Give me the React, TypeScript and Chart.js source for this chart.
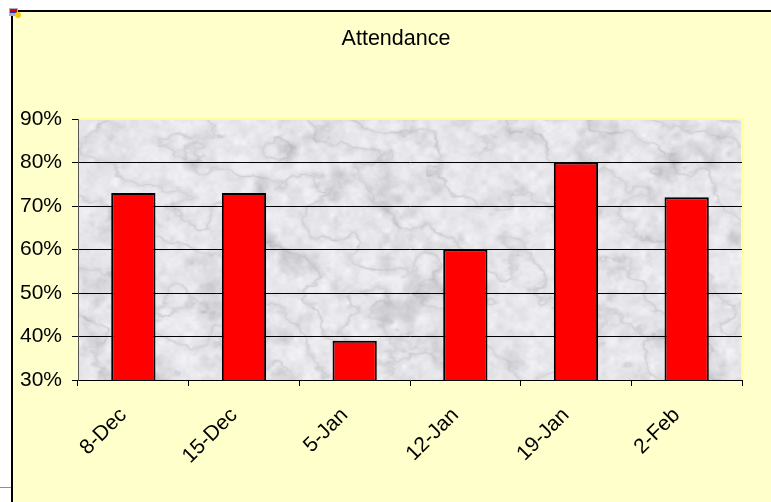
import React, { useEffect, useRef } from "react";
import { Chart, registerables } from "chart.js";

Chart.register(...registerables);

const categories = ["8-Dec", "15-Dec", "5-Jan", "12-Jan", "19-Jan", "2-Feb"];
const attendance = [73, 73, 39, 60, 80, 72];
const yMin = 30;
const yMax = 90;
const yStep = 10;
const titleText = "Attendance";

function hash(x: number, y: number): number {
  let h = Math.imul(x, 374761393) + Math.imul(y, 668265263);
  h = Math.imul(h ^ (h >>> 13), 1274126177);
  h = h ^ (h >>> 16);
  return (h >>> 0) / 4294967295;
}
function vnoise(x: number, y: number): number {
  const ix = Math.floor(x), iy = Math.floor(y);
  const fx = x - ix, fy = y - iy;
  const sx = fx * fx * (3 - 2 * fx), sy = fy * fy * (3 - 2 * fy);
  const a = hash(ix, iy), b = hash(ix + 1, iy), c = hash(ix, iy + 1), d = hash(ix + 1, iy + 1);
  return a + (b - a) * sx + (c - a) * sy + (a - b - c + d) * sx * sy;
}
function fbm(x: number, y: number): number {
  let s = 0, amp = 1, tot = 0, f = 1;
  for (let o = 0; o < 5; o++) {
    s += vnoise(x * f, y * f) * amp;
    tot += amp;
    amp *= 0.5;
    f *= 2;
  }
  return s / tot;
}

let textureCache: HTMLCanvasElement | null = null;
function makeTexture(w: number, h: number): HTMLCanvasElement {
  if (textureCache && textureCache.width === w && textureCache.height === h) return textureCache;
  const c = document.createElement("canvas");
  c.width = w;
  c.height = h;
  const ctx = c.getContext("2d")!;
  const img = ctx.createImageData(w, h);
  for (let py = 0; py < h; py++) {
    for (let px = 0; px < w; px++) {
      const n = fbm(px / 50, py / 35);
      const t = fbm(px / 8 + 5.3, py / 8 + 9.1);
      const b = fbm(px / 25 + 17.7, py / 25 + 3.3);
      const vein = Math.abs(Math.sin(px * 0.03 - py * 0.045 + n * 7));
      const dark = Math.pow(1 - vein, 4) * 45 * t + Math.max(0, b - 0.55) * 90;
      let v = 232 + (t - 0.5) * 30 - dark;
      v = Math.max(130, Math.min(248, v));
      const i = (py * w + px) * 4;
      img.data[i] = v;
      img.data[i + 1] = v;
      img.data[i + 2] = Math.min(255, v + 4);
      img.data[i + 3] = 255;
    }
  }
  ctx.putImageData(img, 0, 0);
  textureCache = c;
  return c;
}

const backgroundPlugin = {
  id: "sheetBackground",
  beforeDraw(chart: any) {
    const ctx = chart.ctx;
    const W = chart.width, H = chart.height;
    ctx.save();
    ctx.fillStyle = "#ffffff";
    ctx.fillRect(0, 0, W, H);
    ctx.fillStyle = "#ffffcc";
    ctx.fillRect(12, 10, W - 12, H - 10);
    ctx.strokeStyle = "#000000";
    ctx.lineWidth = 2;
    ctx.beginPath();
    ctx.moveTo(11, 11);
    ctx.lineTo(W, 11);
    ctx.moveTo(12, 10);
    ctx.lineTo(12, H);
    ctx.stroke();
    ctx.strokeStyle = "#5fa898";
    ctx.lineWidth = 1;
    ctx.beginPath();
    ctx.moveTo(0, 487.5);
    ctx.lineTo(11, 487.5);
    ctx.stroke();
    // small icon
    ctx.fillStyle = "#b0b0c0";
    ctx.fillRect(9, 8, 9, 8);
    ctx.fillStyle = "#e00000";
    ctx.fillRect(10, 9, 7, 2);
    ctx.fillStyle = "#2030c0";
    ctx.fillRect(10, 11, 7, 2);
    ctx.fillStyle = "#f0d000";
    ctx.beginPath();
    ctx.arc(18, 15, 3, 0, Math.PI * 2);
    ctx.fill();
    const a = chart.chartArea;
    const w = Math.round(a.right - a.left), h = Math.round(a.bottom - a.top);
    ctx.drawImage(makeTexture(w, h), a.left, a.top);
    ctx.strokeStyle = "#ffff99";
    ctx.lineWidth = 2;
    ctx.beginPath();
    ctx.moveTo(a.left, a.top);
    ctx.lineTo(a.right, a.top);
    ctx.lineTo(a.right, a.bottom);
    ctx.stroke();
    // title
    ctx.fillStyle = "#000000";
    ctx.font = "21.5px 'Liberation Sans', Arial, sans-serif";
    ctx.textAlign = "center";
    ctx.textBaseline = "middle";
    ctx.fillText(titleText, 396, 39);
    ctx.restore();
  },
};

export default function App() {
  const ref = useRef<HTMLCanvasElement>(null);
  useEffect(() => {
    document.body.style.margin = "0";
    const chart = new Chart(ref.current!, {
      type: "bar",
      data: {
        labels: categories,
        datasets: [
          {
            label: titleText,
            data: attendance,
            backgroundColor: "#ff0000",
            borderColor: "#000000",
            borderWidth: 2,
            borderSkipped: false,
            barPercentage: 0.4,
            categoryPercentage: 1,
          },
        ],
      },
      options: {
        responsive: false,
        animation: false,
        layout: { padding: { left: 0, right: 29, top: 119, bottom: 0 } },
        plugins: {
          legend: { display: false },
          tooltip: { enabled: false },
          title: { display: false },
        },
        scales: {
          x: {
            offset: true,
            grid: {
              offset: true,
              drawOnChartArea: false,
              drawTicks: true,
              tickLength: 6,
              tickColor: "#000000",
            },
            border: { display: true, color: "#000000", width: 1 },
            ticks: {
              color: "#000000",
              font: { family: "'Liberation Sans', Arial, sans-serif", size: 21 },
              minRotation: 45,
              maxRotation: 45,
              padding: 17,
              labelOffset: -10,
            },
            afterFit(scale: any) {
              scale.height = 122;
            },
          },
          y: {
            min: yMin,
            max: yMax,
            ticks: {
              stepSize: yStep,
              color: "#000000",
              font: { family: "'Liberation Sans', Arial, sans-serif", size: 21 },
              padding: 10,
              callback: (v: any) => `${v}%`,
            },
            grid: {
              color: (c: any) =>
                c.tick && (c.tick.value === yMin || c.tick.value === yMax) ? "rgba(0,0,0,0)" : "#000000",
              tickColor: "#000000",
              tickLength: 6,
              lineWidth: 1,
            },
            border: { display: true, color: "#555555", width: 1 },
            afterFit(scale: any) {
              scale.width = 78;
            },
          },
        },
      },
      plugins: [backgroundPlugin],
    });
    return () => chart.destroy();
  }, []);
  return (
    <div style={{ position: "absolute", left: 0, top: 0, width: 771, height: 502 }}>
      <canvas ref={ref} width={771} height={502} style={{ display: "block" }} />
    </div>
  );
}
